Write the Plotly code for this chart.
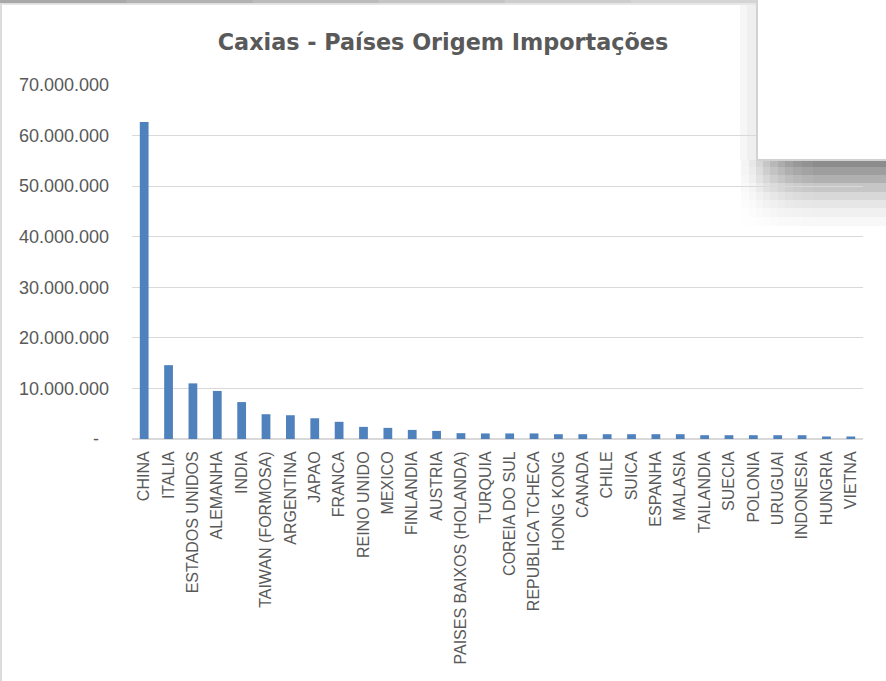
import plotly.graph_objects as go

countries = ["CHINA", "ITALIA", "ESTADOS UNIDOS", "ALEMANHA", "INDIA", "TAIWAN (FORMOSA)",
             "ARGENTINA", "JAPAO", "FRANCA", "REINO UNIDO", "MEXICO", "FINLANDIA", "AUSTRIA",
             "PAISES BAIXOS (HOLANDA)", "TURQUIA", "COREIA DO SUL", "REPUBLICA TCHECA",
             "HONG KONG", "CANADA", "CHILE", "SUICA", "ESPANHA", "MALASIA", "TAILANDIA",
             "SUECIA", "POLONIA", "URUGUAI", "INDONESIA", "HUNGRIA", "VIETNA"]
imports = [62700000, 14600000, 11000000, 9500000, 7300000, 4900000,
           4700000, 4100000, 3400000, 2400000, 2200000, 1800000, 1600000,
           1150000, 1100000, 1100000, 1100000,
           950000, 950000, 950000, 950000, 950000, 950000, 750000,
           750000, 750000, 750000, 750000, 500000, 500000]
y_tick_values = [0, 10000000, 20000000, 30000000, 40000000, 50000000, 60000000, 70000000]
y_tick_labels = ["-\u00a0\u00a0", "10.000.000", "20.000.000", "30.000.000", "40.000.000",
                 "50.000.000", "60.000.000", "70.000.000"]
title_text = "Caxias - Países Origem Importações"

W, H = 886, 681
GRAY_TXT = "#595959"
GRID = "#d9d9d9"

fig = go.Figure(go.Bar(x=countries, y=imports, marker=dict(color="#4f81bd", line=dict(width=0))))

shapes = []

def px_rect(x0, y0, x1, y1, fill, layer="below", line=None):
    d = dict(type="rect", xref="paper", yref="paper",
             x0=(x0 - 132) / 731, x1=(x1 - 132) / 731,
             y0=(439 - y1) / 354, y1=(439 - y0) / 354,
             fillcolor=fill, layer=layer, line=dict(width=0))
    if line:
        d["line"] = line
    return d

# top band of the screenshot
band_cols = ["#a9a9a9", "#b2b2b2", "#bbbbbb", "#c4c4c4", "#cdcdcd", "#d4d4d4"]
step = 757 / len(band_cols)
for i, c in enumerate(band_cols):
    shapes.append(px_rect(i * step, 0, (i + 1) * step + 1, 3.5, c, layer="above"))
shapes.append(px_rect(0, 3.5, 757, 5, "#e6e6e6", layer="above"))
# left border
shapes.append(px_rect(0, 3, 2, 681, "#dcdcdc", layer="above"))
# strips left of box
shapes.append(px_rect(740, 5, 747, 160, "#f6f6f6"))
shapes.append(px_rect(747, 5, 756, 160, "#efefef"))
# shadow under the box
rows = [(160, 167, 0x8c), (167, 175, 0x9e), (175, 183, 0xb0), (183, 192, 0xc6),
        (192, 200, 0xd8), (200, 208, 0xe6), (208, 217, 0xf0), (217, 226, 0xf8)]
cols = [(741, 749, 0.1), (749, 756, 0.2), (756, 763, 0.35), (763, 770, 0.5),
        (770, 778, 0.62), (778, 785, 0.72), (785, 793, 0.82), (793, 802, 0.9),
        (802, 813, 0.95), (813, 887, 1.0)]
for (ya, yb, base) in rows:
    for (xa, xb, f) in cols:
        v = int(round(255 - f * (255 - base)))
        shapes.append(px_rect(xa, ya, xb, yb, "rgb(%d,%d,%d)" % (v, v, v)))
# occluding box
shapes.append(px_rect(757, -2, 890, 160, "#ffffff", layer="above",
                      line=dict(color="#d2d2d2", width=2)))

fig.update_layout(
    width=W, height=H,
    margin=dict(l=132, r=23, t=85, b=242, pad=0),
    paper_bgcolor="#ffffff", plot_bgcolor="rgba(0,0,0,0)",
    separators=",.",
    bargap=0.64,
    showlegend=False,
    title=dict(text=title_text, x=0.5, xref="container", xanchor="center",
               y=1 - 42 / H, yref="container", yanchor="middle",
               font=dict(family="DejaVu Sans", size=22.3, color=GRAY_TXT, weight="bold")),
    xaxis=dict(type="category", showgrid=False, showline=True, linecolor=GRID, linewidth=1,
               ticks="", tickangle=-90, ticklabelstandoff=5,
               tickfont=dict(family="Liberation Sans", size=16, color=GRAY_TXT)),
    yaxis=dict(range=[0, 70000000], tickvals=y_tick_values, ticktext=y_tick_labels,
               showgrid=True, gridcolor=GRID, gridwidth=1, zeroline=True, zerolinecolor=GRID,
               showline=False, ticks="", ticklabelstandoff=22,
               tickfont=dict(family="Liberation Sans", size=18, color=GRAY_TXT)),
    shapes=shapes,
)

fig.write_html("out.html", config={"displayModeBar": False},
               post_script="document.body.style.margin='0';document.body.style.overflow='hidden';")
